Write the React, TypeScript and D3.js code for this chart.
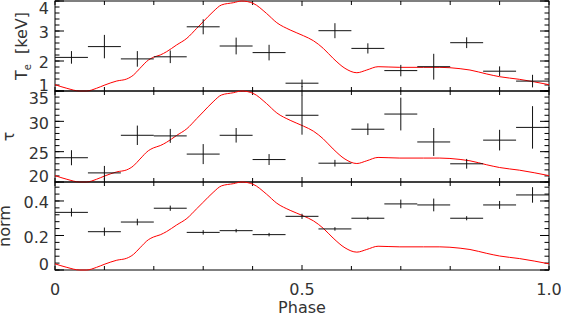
import React from "react";
import * as d3 from "d3";

// ---- data ----
const nBins = 15;
const teValues = [2.12, 2.48, 2.07, 2.14, 3.14, 2.5, 2.28, 1.26, 3.01, 2.42, 1.68, 1.81, 2.61, 1.66, 1.33];
const teErrors = [0.21, 0.39, 0.26, 0.21, 0.25, 0.28, 0.26, 0.12, 0.25, 0.17, 0.19, 0.43, 0.18, 0.16, 0.21];
const tauValues = [24.0, 21.5, 27.7, 27.6, 24.6, 27.7, 23.7, 31.0, 23.1, 28.7, 31.2, 26.6, 23.0, 26.9, 29.0];
const tauErrors = [1.24, 1.15, 1.6, 1.15, 1.65, 1.2, 0.9, 3.2, 0.55, 0.96, 2.7, 2.3, 0.8, 1.7, 3.5];
const normValues = [0.334, 0.222, 0.278, 0.358, 0.218, 0.228, 0.205, 0.311, 0.238, 0.3, 0.383, 0.377, 0.3, 0.377, 0.435];
const normErrors = [0.024, 0.024, 0.019, 0.015, 0.013, 0.01, 0.01, 0.015, 0.01, 0.009, 0.025, 0.037, 0.012, 0.023, 0.045];

// pulse profile (normalised 0..1), drawn scaled into every panel
const profilePhase = [0, 0.024, 0.05, 0.064, 0.084, 0.101, 0.125, 0.145, 0.159, 0.172, 0.189, 0.199, 0.213, 0.226, 0.246, 0.267, 0.287, 0.3, 0.32, 0.337, 0.361, 0.378, 0.401, 0.428, 0.449, 0.476, 0.503, 0.523, 0.543, 0.563, 0.587, 0.611, 0.631, 0.654, 0.698, 0.746, 0.779, 0.82, 0.84, 0.874, 0.9, 0.94, 1.0];
const profileLevel = [0.07, 0.03, 0.0, 0.0, 0.03, 0.067, 0.111, 0.133, 0.178, 0.252, 0.344, 0.374, 0.4, 0.437, 0.511, 0.586, 0.697, 0.77, 0.881, 0.956, 0.981, 1.0, 0.974, 0.863, 0.759, 0.678, 0.614, 0.559, 0.474, 0.363, 0.252, 0.203, 0.233, 0.27, 0.263, 0.263, 0.263, 0.248, 0.233, 0.189, 0.159, 0.13, 0.07];

const xTickLabels = ["0", "0.5", "1.0"];
const xTickValues = [0, 0.5, 1.0];
const teTicks = [1, 2, 3, 4];
const tauTicks = [20, 25, 30, 35];
const normTicks = [0, 0.2, 0.4];
const normTickLabels = ["0", "0.2", "0.4"];

const W = 561;
const H = 316;
const FONT = "'DejaVu Sans', sans-serif";
const FS = 16;
const TXT = "#333";

const x = d3.scaleLinear().domain([0, 1]).range([55, 549]);

type Panel = {
  top: number;
  bottom: number;
  domain: [number, number];
  values: number[];
  errors: number[];
  ticks: number[];
  tickLabels: string[];
  minorStep: number;
  titleX: number;
  title: React.ReactNode;
};

const panels: Panel[] = [
  {
    top: 1, bottom: 91, domain: [1, 4], values: teValues, errors: teErrors,
    ticks: teTicks, tickLabels: teTicks.map(String), minorStep: 0.2, titleX: 27,
    title: (
      <>
        <tspan>T</tspan>
        <tspan fontSize={10} dy={4}>e</tspan>
        <tspan dy={-4}>{"  [keV]"}</tspan>
      </>
    ),
  },
  {
    top: 91, bottom: 182, domain: [20, 35], values: tauValues, errors: tauErrors,
    ticks: tauTicks, tickLabels: tauTicks.map(String), minorStep: 1, titleX: 13.5,
    title: <tspan>τ</tspan>,
  },
  {
    top: 182, bottom: 270, domain: [0, 0.51], values: normValues, errors: normErrors,
    ticks: normTicks, tickLabels: normTickLabels, minorStep: 0.04, titleX: 9.5,
    title: <tspan>norm</tspan>,
  },
];

function PanelView({ p }: { p: Panel }) {
  const y = d3.scaleLinear().domain(p.domain).range([p.bottom, p.top]);
  const yProf = d3.scaleLinear().domain([0, 1]).range([p.bottom, p.top]);
  const line = d3
    .line<number>()
    .x((_, i) => x(profilePhase[i]))
    .y((d) => yProf(d))
    .curve(d3.curveMonotoneX);
  const minor = d3.range(p.domain[0], p.domain[1] + 1e-9, p.minorStep);
  const xMinor = d3.range(0, 1.0001, 0.1);
  const mid = (p.top + p.bottom) / 2;
  return (
    <g>
      <rect x={x(0)} y={p.top} width={x(1) - x(0)} height={p.bottom - p.top} fill="none" stroke="#000" strokeWidth={1} />
      {minor.map((v, i) => (
        <g key={"m" + i} stroke="#000" strokeWidth={1}>
          <line x1={x(0)} x2={x(0) + 4.5} y1={y(v)} y2={y(v)} />
          <line x1={x(1)} x2={x(1) - 4.5} y1={y(v)} y2={y(v)} />
        </g>
      ))}
      {p.ticks.map((v, i) => (
        <g key={"M" + i} stroke="#000" strokeWidth={1}>
          <line x1={x(0)} x2={x(0) + 9} y1={y(v)} y2={y(v)} />
          <line x1={x(1)} x2={x(1) - 9} y1={y(v)} y2={y(v)} />
        </g>
      ))}
      {xMinor.map((v, i) => {
        const len = Math.abs(v - 0.5) < 1e-6 ? 5 : 4;
        return (
          <g key={"x" + i} stroke="#000" strokeWidth={1}>
            <line x1={x(v)} x2={x(v)} y1={p.top} y2={p.top + len} />
            <line x1={x(v)} x2={x(v)} y1={p.bottom} y2={p.bottom - len} />
          </g>
        );
      })}
      {p.ticks.map((v, i) => {
        const c = Math.min(Math.max(y(v) + 1.5, p.top + 7), p.bottom - 5.5);
        return (
          <text key={"l" + i} x={49} y={c + 5.8} textAnchor="end" fontFamily={FONT} fontSize={FS} fill={TXT}>
            {p.tickLabels[i]}
          </text>
        );
      })}
      <text transform={`translate(${p.titleX},${mid}) rotate(-90)`} textAnchor="middle" fontFamily={FONT} fontSize={FS} fill={TXT} style={{ whiteSpace: "pre" }}>
        {p.title}
      </text>
      <path d={line(profileLevel) || ""} fill="none" stroke="#ff0000" strokeWidth={1} />
      {p.values.map((v, i) => {
        const c = (i + 0.5) / nBins;
        const hw = 0.5 / nBins;
        return (
          <g key={"d" + i} stroke="#111" strokeWidth={1}>
            <line x1={x(c - hw)} x2={x(c + hw)} y1={y(v)} y2={y(v)} />
            <line x1={x(c)} x2={x(c)} y1={y(v - p.errors[i])} y2={y(v + p.errors[i])} />
          </g>
        );
      })}
    </g>
  );
}

export default function App() {
  return (
    <svg width={W} height={H} style={{ position: "absolute", left: 0, top: 0, background: "#fff" }}>
      <rect width={W} height={H} fill="#fff" />
      {panels.map((p, i) => (
        <PanelView key={i} p={p} />
      ))}
      {xTickValues.map((v, i) => (
        <text key={i} x={x(v)} y={295} textAnchor="middle" fontFamily={FONT} fontSize={FS} fill={TXT}>
          {xTickLabels[i]}
        </text>
      ))}
      <text x={x(0.5)} y={313} textAnchor="middle" fontFamily={FONT} fontSize={FS} fill={TXT}>
        Phase
      </text>
    </svg>
  );
}
